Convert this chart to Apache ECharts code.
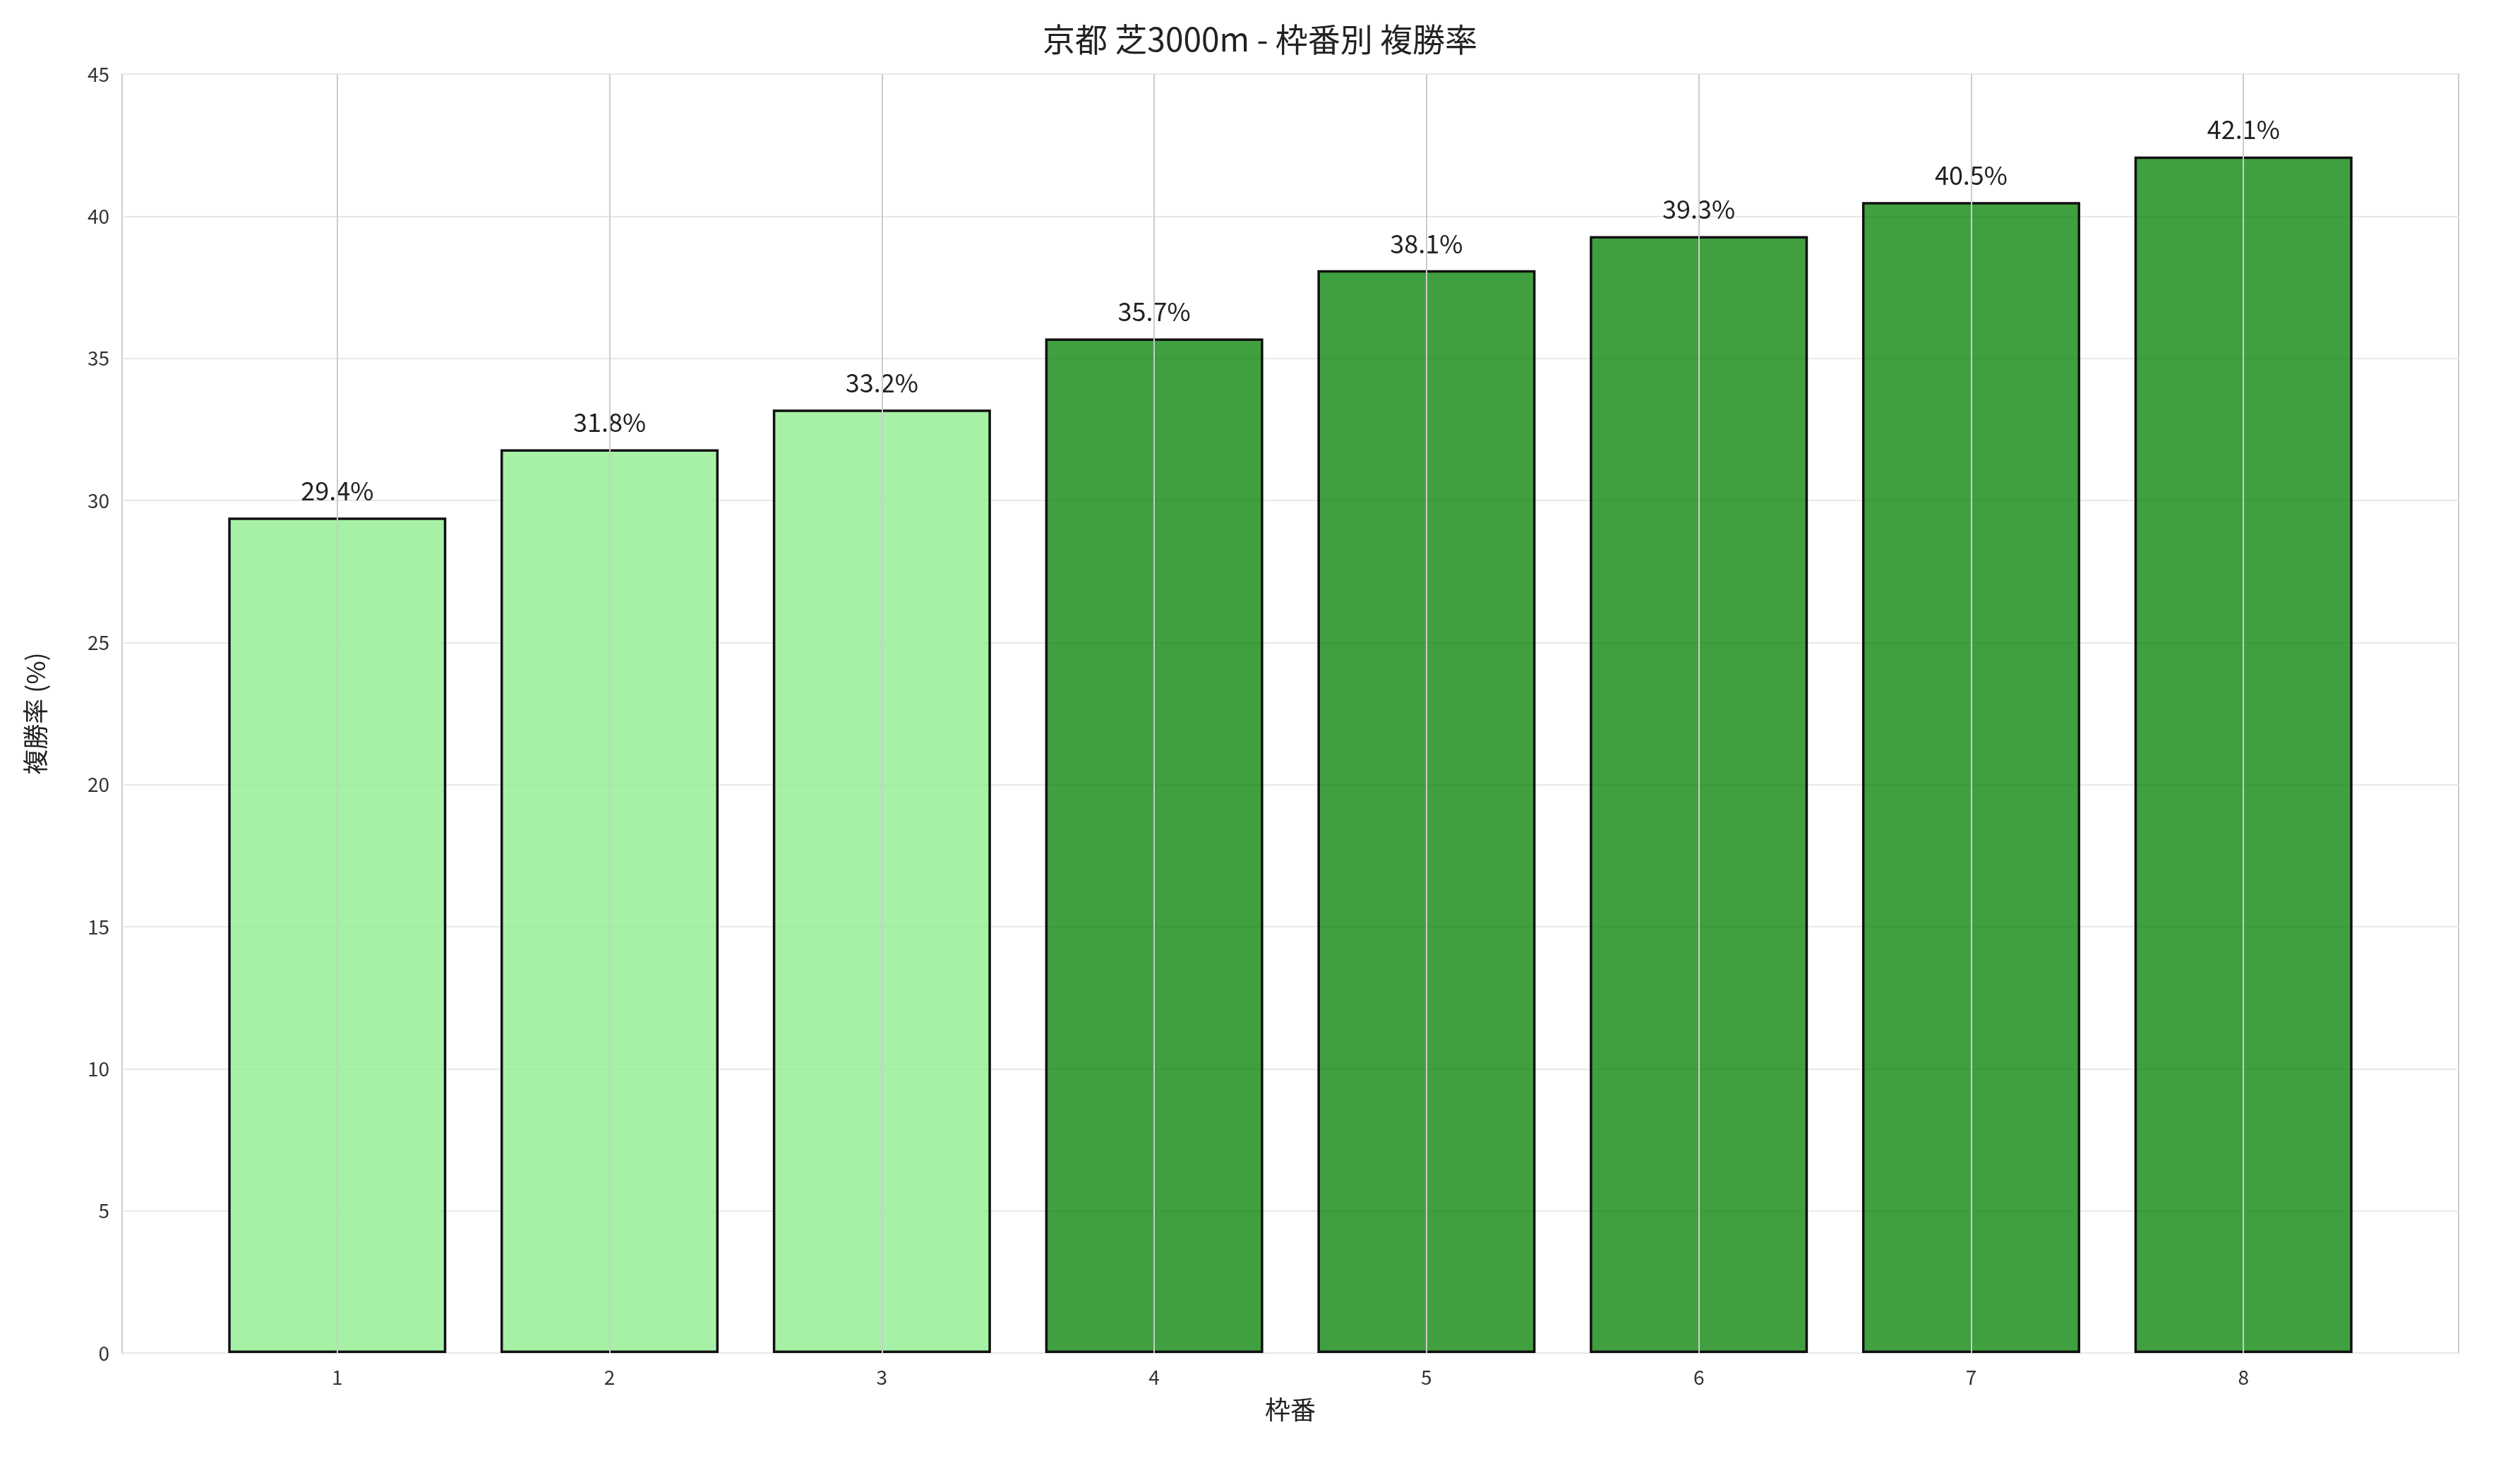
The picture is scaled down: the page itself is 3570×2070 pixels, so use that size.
<!DOCTYPE html>
<html><head><meta charset="utf-8">
<script src="https://cdn.jsdelivr.net/npm/echarts@6/dist/echarts.min.js"></script>
<style>html,body{margin:0;background:#fff}#c{width:3570px;height:2070px}</style>
</head><body><div id="c"></div>
<script>
var waku = [1, 2, 3, 4, 5, 6, 7, 8];
var rate = [29.4, 31.8, 33.2, 35.7, 38.1, 39.3, 40.5, 42.1];
var light = [true, true, true, false, false, false, false, false];

var font = '"Noto Sans CJK JP", sans-serif';
var chart = echarts.init(document.getElementById('c'));
var barData = waku.map(function(w, i) {
  return {
    value: [w, rate[i]],
    itemStyle: { color: light[i] ? 'rgba(144,238,144,0.8)' : 'rgba(0,128,0,0.75)' }
  };
});
chart.setOption({
  animation: false,
  title: {
    text: '京都 芝3000m - 枠番別 複勝率', left: 'center', top: 28,
    textStyle: { fontFamily: font, fontSize: 46, fontWeight: 'normal', color: '#222' }
  },
  grid: { left: 173, right: 87, top: 105, bottom: 153, show: true, borderColor: '#cccccc', borderWidth: 2 },
  xAxis: {
    type: 'value', min: 0.21, max: 8.79,
    name: '枠番', nameLocation: 'middle', nameGap: 62,
    nameTextStyle: { fontFamily: font, fontSize: 36, color: '#222' },
    axisLine: { show: false }, splitLine: { show: false },
    axisTick: { show: false },
    axisLabel: { customValues: waku, fontFamily: font, fontSize: 28, color: '#333', margin: 20 }
  },
  yAxis: {
    type: 'value', min: 0, max: 45, interval: 5,
    name: '複勝率 (%)', nameLocation: 'middle', nameGap: 105,
    nameTextStyle: { fontFamily: font, fontSize: 36, color: '#222' },
    axisLine: { show: false }, axisTick: { show: false },
    axisLabel: { fontFamily: font, fontSize: 28, color: '#333', margin: 18 },
    splitLine: { lineStyle: { color: '#e8e8e8', width: 2 } }
  },
  series: [
    {
      type: 'line', data: [], z: 1,
      markLine: {
        silent: true, symbol: 'none', label: { show: false },
        lineStyle: { color: '#cccccc', width: 2, type: 'solid' },
        data: waku.map(function(w) { return { xAxis: w }; })
      }
    },
    {
      type: 'bar', z: 2, barWidth: 309, data: barData,
      itemStyle: { borderColor: '#111', borderWidth: 3.5 },
      label: {
        show: true, position: 'top', distance: 20,
        fontFamily: font, fontSize: 36, color: '#222',
        formatter: function(p) { return p.value[1].toFixed(1) + '%'; }
      }
    }
  ]
});
</script></body></html>
